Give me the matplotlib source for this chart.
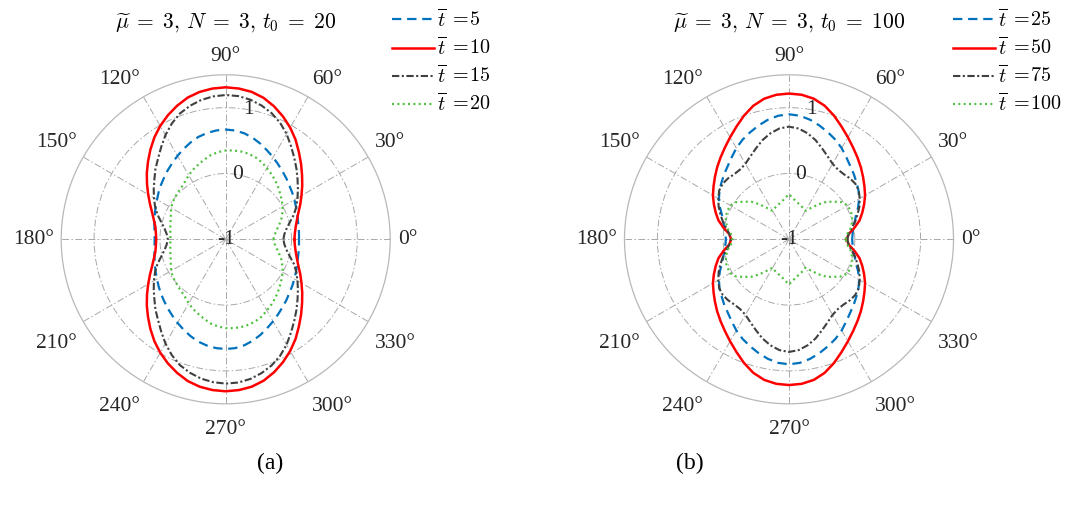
import numpy as np
import matplotlib
matplotlib.use('Agg')
import matplotlib.pyplot as plt
from matplotlib.transforms import ScaledTranslation

plt.rcParams['font.family'] = ['Liberation Serif', 'DejaVu Serif']
plt.rcParams['mathtext.fontset'] = 'cm'

# ---------------- data ----------------
theta_deg = np.arange(0, 360, 5)
theta_ticks = list(range(0, 360, 30))
theta_labels = [f'{d}°' for d in theta_ticks]
r_ticks = [-1, 0, 1]
r_tick_labels = ['-1', '0', '1']

titles = [r'$\widetilde{\mu}\;=\;3,\,N\;=\;3,\,t_0\;=\;20$',
          r'$\widetilde{\mu}\;=\;3,\,N\;=\;3,\,t_0\;=\;100$']
captions = ['(a)', '(b)']

labels_a = [r'$\overline{t}$ $=\!5$', r'$\overline{t}$ $=\!10$', r'$\overline{t}$ $=\!15$', r'$\overline{t}$ $=\!20$']
labels_b = [r'$\overline{t}$ $=\!25$', r'$\overline{t}$ $=\!50$', r'$\overline{t}$ $=\!75$', r'$\overline{t}$ $=\!100$']

# (a) t0 = 20, values at theta = 0, 5, ..., 355 deg
a_t5 = [0.114, 0.118, 0.125, 0.135, 0.155, 0.178, 0.205, 0.235, 0.265, 0.305, 0.345, 0.39, 0.44, 0.49, 0.545, 0.595, 0.635, 0.66, 0.668,
        0.66, 0.64, 0.61, 0.565, 0.515, 0.465, 0.415, 0.37, 0.325, 0.285, 0.245, 0.205, 0.175, 0.145, 0.12, 0.10, 0.085,
        0.08,
        0.085, 0.10, 0.12, 0.145, 0.175, 0.205, 0.245, 0.285, 0.325, 0.37, 0.415, 0.465, 0.515, 0.565, 0.61, 0.64, 0.66,
        0.668,
        0.66, 0.635, 0.595, 0.545, 0.49, 0.44, 0.39, 0.345, 0.305, 0.265, 0.235, 0.205, 0.178, 0.155, 0.135, 0.125, 0.118]
a_t10 = [0.044, 0.055, 0.08, 0.12, 0.175, 0.25, 0.33, 0.42, 0.515, 0.62, 0.73, 0.85, 0.96, 1.06, 1.15, 1.225, 1.275, 1.30, 1.31,
         1.30, 1.275, 1.23, 1.16, 1.08, 0.99, 0.89, 0.78, 0.67, 0.565, 0.46, 0.36, 0.27, 0.19, 0.13, 0.085, 0.065,
         0.056,
         0.065, 0.085, 0.13, 0.19, 0.27, 0.36, 0.46, 0.565, 0.67, 0.78, 0.89, 0.99, 1.08, 1.16, 1.23, 1.275, 1.30,
         1.31,
         1.30, 1.275, 1.225, 1.15, 1.06, 0.96, 0.85, 0.73, 0.62, 0.515, 0.42, 0.33, 0.25, 0.175, 0.12, 0.08, 0.055]
a_t15 = [-0.123, -0.105, -0.06, 0.01, 0.105, 0.185, 0.26, 0.34, 0.425, 0.52, 0.62, 0.73, 0.85, 0.955, 1.04, 1.105, 1.155, 1.185, 1.193,
         1.18, 1.15, 1.10, 1.035, 0.94, 0.83, 0.71, 0.60, 0.51, 0.415, 0.335, 0.26, 0.185, 0.105, 0.015, -0.055, -0.10,
         -0.12,
         -0.10, -0.055, 0.015, 0.105, 0.185, 0.26, 0.335, 0.415, 0.51, 0.60, 0.71, 0.83, 0.94, 1.035, 1.10, 1.15, 1.18,
         1.193,
         1.185, 1.155, 1.105, 1.04, 0.955, 0.85, 0.73, 0.62, 0.52, 0.425, 0.34, 0.26, 0.185, 0.105, 0.01, -0.06, -0.105]
a_t20 = [-0.275, -0.255, -0.215, -0.16, -0.10, -0.05, 0.0, 0.04, 0.08, 0.125, 0.17, 0.21, 0.25, 0.295, 0.325, 0.345, 0.355, 0.355, 0.35,
         0.33, 0.30, 0.255, 0.21, 0.17, 0.125, 0.075, 0.04, 0.02, 0.0, -0.015, -0.045, -0.08, -0.11, -0.13, -0.145, -0.155,
         -0.16,
         -0.155, -0.145, -0.13, -0.11, -0.08, -0.045, -0.015, 0.0, 0.02, 0.04, 0.075, 0.125, 0.17, 0.21, 0.255, 0.30, 0.33,
         0.35,
         0.355, 0.355, 0.345, 0.325, 0.295, 0.25, 0.21, 0.17, 0.125, 0.08, 0.04, 0.0, -0.05, -0.10, -0.16, -0.215, -0.255]

# (b) t0 = 100, values at theta = 0, 5, ..., 355 deg
b_t25 = [-0.04, -0.03, -0.005, 0.035, 0.085, 0.16, 0.23, 0.29, 0.34, 0.395, 0.45, 0.52, 0.60, 0.67, 0.73, 0.79, 0.845, 0.885, 0.90,
         0.885, 0.845, 0.79, 0.73, 0.67, 0.60, 0.52, 0.45, 0.395, 0.34, 0.29, 0.23, 0.16, 0.085, 0.035, -0.005, -0.03,
         -0.04,
         -0.03, -0.005, 0.035, 0.085, 0.16, 0.23, 0.29, 0.34, 0.395, 0.45, 0.52, 0.60, 0.67, 0.73, 0.79, 0.845, 0.885,
         0.90,
         0.885, 0.845, 0.79, 0.73, 0.67, 0.60, 0.52, 0.45, 0.395, 0.34, 0.29, 0.23, 0.16, 0.085, 0.035, -0.005, -0.03]
b_t50 = [-0.123, -0.09, 0.01, 0.11, 0.185, 0.26, 0.335, 0.40, 0.47, 0.545, 0.62, 0.70, 0.79, 0.89, 1.00, 1.10, 1.17, 1.205, 1.215,
         1.205, 1.17, 1.10, 1.00, 0.89, 0.79, 0.70, 0.62, 0.545, 0.47, 0.40, 0.335, 0.26, 0.185, 0.11, 0.01, -0.09,
         -0.12,
         -0.09, 0.01, 0.11, 0.185, 0.26, 0.335, 0.40, 0.47, 0.545, 0.62, 0.70, 0.79, 0.89, 1.00, 1.10, 1.17, 1.205,
         1.215,
         1.205, 1.17, 1.10, 1.00, 0.89, 0.79, 0.70, 0.62, 0.545, 0.47, 0.40, 0.335, 0.26, 0.185, 0.11, 0.01, -0.09]
b_t75 = [-0.114, -0.09, -0.035, 0.04, 0.11, 0.18, 0.24, 0.295, 0.315, 0.31, 0.293, 0.295, 0.325, 0.39, 0.47, 0.56, 0.635, 0.69, 0.712,
         0.69, 0.635, 0.56, 0.47, 0.39, 0.325, 0.295, 0.293, 0.31, 0.315, 0.295, 0.24, 0.18, 0.11, 0.04, -0.035, -0.09,
         -0.114,
         -0.09, -0.035, 0.04, 0.11, 0.18, 0.24, 0.295, 0.315, 0.31, 0.293, 0.295, 0.325, 0.39, 0.47, 0.56, 0.635, 0.69,
         0.712,
         0.69, 0.635, 0.56, 0.47, 0.39, 0.325, 0.295, 0.293, 0.31, 0.315, 0.295, 0.24, 0.18, 0.11, 0.04, -0.035, -0.09]
b_t100 = [-0.14, -0.115, -0.05, -0.01, 0.023, 0.03, 0.03, -0.017, -0.11, -0.195, -0.307, -0.42, -0.50, -0.48, -0.46, -0.438, -0.41, -0.366, -0.315,
          -0.366, -0.41, -0.438, -0.46, -0.48, -0.50, -0.42, -0.307, -0.195, -0.11, -0.017, 0.03, 0.03, 0.023, -0.01, -0.05, -0.115,
          -0.14,
          -0.115, -0.05, -0.01, 0.023, 0.03, 0.03, -0.017, -0.11, -0.195, -0.307, -0.42, -0.50, -0.48, -0.46, -0.438, -0.41, -0.366,
          -0.315,
          -0.366, -0.41, -0.438, -0.46, -0.48, -0.50, -0.42, -0.307, -0.195, -0.11, -0.017, 0.03, 0.03, 0.023, -0.01, -0.05, -0.115]

series_a = [a_t5, a_t10, a_t15, a_t20]
series_b = [b_t25, b_t50, b_t75, b_t100]

# ---------------- styles ----------------
styles = [
    dict(color='#0072BD', lw=1.6, dashes=(4.2, 2.6)),
    dict(color='#FF0000', lw=1.8, linestyle='-'),
    dict(color='#404040', lw=1.5, dashes=(3.5, 1.2, 1.0, 1.2)),
    dict(color='#50C040', lw=1.6, dashes=(0.9, 1.5)),
]

W, H = 1073, 509
fig = plt.figure(figsize=(W / 100, H / 100), dpi=100)
R = 164.5
PX_PER_UNIT = R / 2.5
FS = 15.5
TXT = '#262626'


def closed(vals):
    n = min(len(theta_deg), len(vals))
    t = np.deg2rad(np.append(theta_deg[:n], 360))
    v = np.append(np.asarray(vals[:n], float), vals[0])
    return t, v


def make_panel(cx, cy, series, labels, title, legend_x, caption, cap_x):
    ax = fig.add_axes([(cx - R) / W, (H - cy - R) / H, 2 * R / W, 2 * R / H],
                      projection='polar')
    ax.set_ylim(-1, 1.5)
    ax.set_rticks(r_ticks)
    ax.set_yticklabels([])
    ax.set_thetagrids(theta_ticks, [''] * len(theta_ticks))
    ax.grid(True, color='#a8a8a8', lw=0.7, linestyle=(0, (7, 2.5, 1.5, 2.5)))
    ax.spines['polar'].set_color('#b8b8b8')
    ax.spines['polar'].set_linewidth(0.9)
    handles = []
    for vals, st in zip(series, styles):
        t, v = closed(vals)
        ln, = ax.plot(t, v, zorder=3, **st)
        handles.append(ln)
    # radial labels
    for rv, rl in zip(r_ticks, r_tick_labels):
        ax.text(np.deg2rad(80), rv, rl, ha='center', va='center',
                fontsize=FS, color=TXT, zorder=5)
    # angular labels (aligned outward, MATLAB-like)
    r_anchor = -1 + 172 / PX_PER_UNIT
    for d, lab in zip(theta_ticks, theta_labels):
        c, s = np.cos(np.deg2rad(d)), np.sin(np.deg2rad(d))
        ha = 'left' if c > 0.01 else ('right' if c < -0.01 else 'center')
        va = 'bottom' if s > 0.01 else ('top' if s < -0.01 else 'center')
        dy = 1.5 if s > 0.01 else (-8.5 if s < -0.01 else 0.0)
        tr = ax.transData + ScaledTranslation(0, dy / 100, fig.dpi_scale_trans)
        ax.text(np.deg2rad(d), r_anchor, lab, ha=ha, va=va, fontsize=FS,
                color=TXT, clip_on=False, transform=tr)
    fig.text(cx / W, 1 - 27.5 / H, title, ha='center', va='baseline', fontsize=FS)
    fig.legend(handles, labels, loc='upper left',
               bbox_to_anchor=(legend_x / W, 1 - 9 / H), frameon=False,
               fontsize=14.5, handlelength=2.1, handletextpad=0.15,
               labelspacing=0.28, borderaxespad=0, borderpad=0)
    fig.text(cap_x / W, 1 - 463 / H, caption, ha='center', va='center', fontsize=17)
    return ax


make_panel(225.7, 239.3, series_a, labels_a, titles[0], 392, captions[0], 270)
make_panel(789.0, 239.3, series_b, labels_b, titles[1], 953, captions[1], 690)

fig.savefig('out.png', dpi=100, facecolor='white')
